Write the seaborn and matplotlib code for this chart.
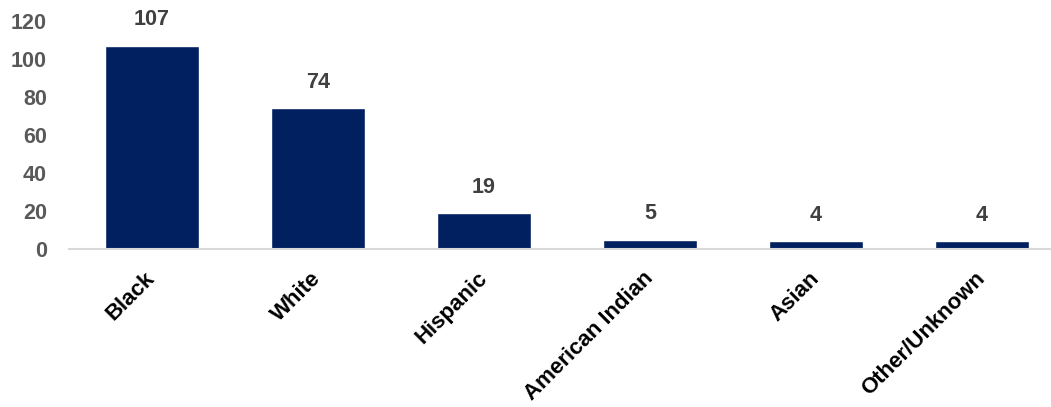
import matplotlib
matplotlib.use("Agg")
import matplotlib.pyplot as plt
import seaborn as sns
import pandas as pd

categories = ["Black", "White", "Hispanic", "American Indian", "Asian", "Other/Unknown"]
counts = [107, 74, 19, 5, 4, 4]
y_ticks = [0, 20, 40, 60, 80, 100, 120]

sns.set_theme(style="white")
plt.rcParams["font.family"] = ["Liberation Sans", "DejaVu Sans"]

df = pd.DataFrame({"group": categories, "count": counts})

fig = plt.figure(figsize=(10.51, 4.07), dpi=100)
ax = fig.add_axes([69 / 1051, 158 / 407, 996 / 1051, 228 / 407])

sns.barplot(data=df, x="group", y="count", color="#002060", width=0.566,
            saturation=1, ax=ax)

for p, v in zip(ax.patches, counts):
    ax.annotate(str(v), (p.get_x() + p.get_width() / 2, v),
                xytext=(0, 11), textcoords="offset points",
                ha="center", va="bottom", fontsize=15.5, fontweight="bold",
                color="#404040")

ax.set_xlim(-0.5, len(categories) - 0.5)
ax.set_ylim(0, 120)
ax.set_yticks(y_ticks)
ax.set_yticklabels([str(t) for t in y_ticks], fontsize=15.5, fontweight="bold",
                   color="#595959")
ax.set_xlabel("")
ax.set_ylabel("")
ax.set_xticks(range(len(categories)))
ax.set_xticklabels(categories, rotation=45, ha="right", va="center",
                   rotation_mode="anchor", fontsize=16, fontweight="bold",
                   color="#000000")
ax.tick_params(axis="x", length=0, pad=19)
ax.tick_params(axis="y", length=0, pad=16)

for side in ["top", "right", "left"]:
    ax.spines[side].set_visible(False)
ax.spines["bottom"].set_color("#d9d9d9")
ax.spines["bottom"].set_linewidth(1.5)
ax.patch.set_alpha(0)

fig.savefig("out.png", dpi=100)
